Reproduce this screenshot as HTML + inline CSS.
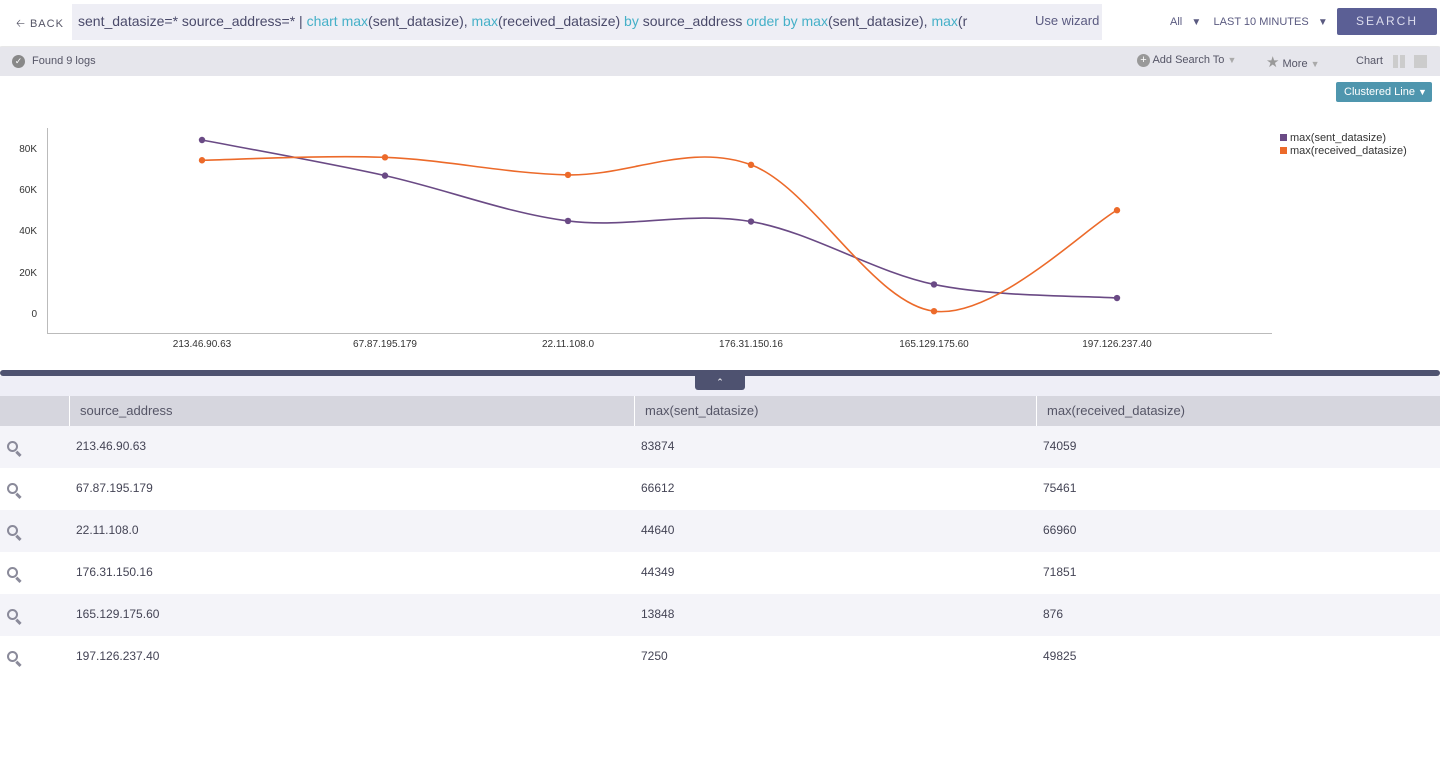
<!DOCTYPE html>
<html><head><style>
*{margin:0;padding:0;box-sizing:border-box}
body{width:1440px;height:775px;background:#fff;font-family:"Liberation Sans",sans-serif;color:#4a4a62;position:relative;overflow:hidden}
.abs{position:absolute}
.mg{position:absolute;width:11px;height:11px;border:2.5px solid #8a8a9a;border-radius:50%}
.mg:after{content:"";position:absolute;left:8px;top:8px;width:2.5px;height:6px;background:#8a8a9a;transform:rotate(-45deg)}
</style></head><body>
<div class="abs" style="left:0;top:0;width:1440px;height:46px;background:#fff;box-shadow:0 1px 2px #ddd"></div>
<div class="abs" style="left:16px;top:15px;font-size:11px;letter-spacing:1px;color:#556">&#129120; BACK</div>
<div class="abs" style="left:72px;top:4px;width:1030px;height:36px;background:#eeeef5"></div>
<div class="abs" style="left:78px;top:13px;font-size:14px;white-space:nowrap;width:912px;overflow:hidden;color:#4a4a6a">sent_datasize=* source_address=* | <span style="color:#45b0c8">chart max</span>(sent_datasize), <span style="color:#45b0c8">max</span>(received_datasize) <span style="color:#45b0c8">by</span> source_address <span style="color:#45b0c8">order by max</span>(sent_datasize), <span style="color:#45b0c8">max</span>(r</div>
<div class="abs" style="left:1035px;top:13px;font-size:13px;color:#5a5a80">Use wizard</div>
<div class="abs" style="left:1170px;top:16px;font-size:11px;color:#5a5a80">All &nbsp;&nbsp;<span style="font-size:10px">▼</span>&nbsp;&nbsp;&nbsp; LAST 10 MINUTES &nbsp;&nbsp;<span style="font-size:10px">▼</span></div>
<div class="abs" style="left:1337px;top:8px;width:100px;height:27px;background:#5b5f95;border-radius:2px;color:#dde;font-size:12px;letter-spacing:2px;text-align:center;line-height:27px">SEARCH</div>
<div class="abs" style="left:0;top:47px;width:1440px;height:29px;background:#e6e6ec"></div>
<div class="abs" style="left:12px;top:55px;width:13px;height:13px;border-radius:50%;background:#888;color:#fff;font-size:9px;text-align:center;line-height:13px">✓</div>
<div class="abs" style="left:32px;top:55px;font-size:11px;color:#556">Found 9 logs</div>
<div class="abs" style="left:1137px;top:54px;font-size:11px;color:#556"><span style="display:inline-block;width:13px;height:13px;border-radius:50%;background:#999;color:#fff;text-align:center;line-height:13px;font-size:11px">+</span> Add Search To <span style="color:#aaa;font-size:9px">▼</span></div>
<div class="abs" style="left:1266px;top:53px;font-size:11px;color:#556"><span style="color:#999;font-size:15px">★</span> More <span style="color:#aaa;font-size:9px">▼</span></div>
<div class="abs" style="left:1356px;top:55px;font-size:11px;color:#556">Chart</div>
<div class="abs" style="left:1393px;top:55px;width:5px;height:13px;background:#ccc"></div>
<div class="abs" style="left:1400px;top:55px;width:5px;height:13px;background:#ccc"></div>
<div class="abs" style="left:1414px;top:55px;width:13px;height:13px;background:#ccc"></div>
<div class="abs" style="left:1336px;top:82px;width:96px;height:20px;background:#4f96ae;border-radius:2px;color:#fff;font-size:11px;line-height:20px;padding-left:8px">Clustered Line <span style="font-size:9px">▼</span></div>
<svg class="abs" style="left:0;top:0" width="1440" height="370">
<g font-size="10" fill="#333" font-family="Liberation Sans">
<text x="37" y="152" text-anchor="end">80K</text><text x="37" y="193" text-anchor="end">60K</text><text x="37" y="234" text-anchor="end">40K</text><text x="37" y="276" text-anchor="end">20K</text><text x="37" y="317" text-anchor="end">0</text>
<text x="202" y="347" text-anchor="middle">213.46.90.63</text><text x="385" y="347" text-anchor="middle">67.87.195.179</text><text x="568" y="347" text-anchor="middle">22.11.108.0</text><text x="751" y="347" text-anchor="middle">176.31.150.16</text><text x="934" y="347" text-anchor="middle">165.129.175.60</text><text x="1117" y="347" text-anchor="middle">197.126.237.40</text>
</g>
<line x1="47.5" y1="128" x2="47.5" y2="334" stroke="#bbb"/>
<line x1="47" y1="333.5" x2="1272" y2="333.5" stroke="#bbb"/>
<path id="s" fill="none" stroke="#6a4a85" stroke-width="1.6" d=""/>
<path id="r" fill="none" stroke="#ec6a2a" stroke-width="1.6" d=""/>
<g id="dots"></g>
<rect x="1280" y="134" width="7" height="7" fill="#6a4a85"/><rect x="1280" y="147" width="7" height="7" fill="#ec6a2a"/>
<text x="1290" y="141" font-size="11" fill="#333">max(sent_datasize)</text>
<text x="1290" y="154" font-size="11" fill="#333">max(received_datasize)</text>
</svg>
<div class="abs" style="left:0;top:370px;width:1440px;height:6px;background:#4e5270;border-radius:3px"></div>
<div class="abs" style="left:0;top:376px;width:1440px;height:20px;background:#eeeef6"></div>
<div class="abs" style="left:695px;top:375px;width:50px;height:15px;background:#4e5270;border-radius:0 0 3px 3px;color:#fff;font-size:9px;text-align:center;line-height:15px">⌃</div>
<div class="abs" style="left:0;top:396px;width:1440px;height:30px;background:#d6d6de;font-size:13px;color:#556"></div>
<div class="abs" style="left:69px;top:396px;width:1px;height:30px;background:#fff"></div>
<div class="abs" style="left:634px;top:396px;width:1px;height:30px;background:#fff"></div>
<div class="abs" style="left:1036px;top:396px;width:1px;height:30px;background:#fff"></div>
<div class="abs" style="left:80px;top:403px;font-size:13px;color:#556">source_address</div>
<div class="abs" style="left:645px;top:403px;font-size:13px;color:#556">max(sent_datasize)</div>
<div class="abs" style="left:1047px;top:403px;font-size:13px;color:#556">max(received_datasize)</div>
<div id="rows"></div>
<script>
const X=[202,385,568,751,934,1117],S=[83874,66612,44640,44349,13848,7250],R=[74059,75461,66960,71851,876,49825];
const Y=v=>313-v*165/80000;
function path(vs){const p=X.map((x,i)=>[x,Y(vs[i])]);let d=`M${p[0]}`;for(let i=0;i<p.length-1;i++){const p0=p[i-1]||p[i],p1=p[i],p2=p[i+1],p3=p[i+2]||p2,t=6;d+=` C${p1[0]+(p2[0]-p0[0])/t},${p1[1]+(p2[1]-p0[1])/t} ${p2[0]-(p3[0]-p1[0])/t},${p2[1]-(p3[1]-p1[1])/t} ${p2[0]},${p2[1]}`}return d}
document.getElementById('s').setAttribute('d',path(S));document.getElementById('r').setAttribute('d',path(R));
let g='';X.forEach((x,i)=>{g+=`<circle cx="${x}" cy="${Y(S[i])}" r="3.2" fill="#6a4a85"/><circle cx="${x}" cy="${Y(R[i])}" r="3.2" fill="#ec6a2a"/>`});document.getElementById('dots').innerHTML=g;
const A=['213.46.90.63','67.87.195.179','22.11.108.0','176.31.150.16','165.129.175.60','197.126.237.40'];let h='';
A.forEach((a,i)=>{const t=426+i*42;h+=`<div class="abs" style="left:0;top:${t}px;width:1440px;height:42px;background:${i%2?'#fff':'#f4f4f9'}"></div><div class="mg" style="left:7px;top:${t+15}px"></div><div class="abs" style="left:76px;top:${t+13}px;font-size:12px;color:#445">${a}</div><div class="abs" style="left:641px;top:${t+13}px;font-size:12px;color:#445">${S[i]}</div><div class="abs" style="left:1043px;top:${t+13}px;font-size:12px;color:#445">${R[i]}</div>`});
document.getElementById('rows').innerHTML=h;
</script>
</body></html>
